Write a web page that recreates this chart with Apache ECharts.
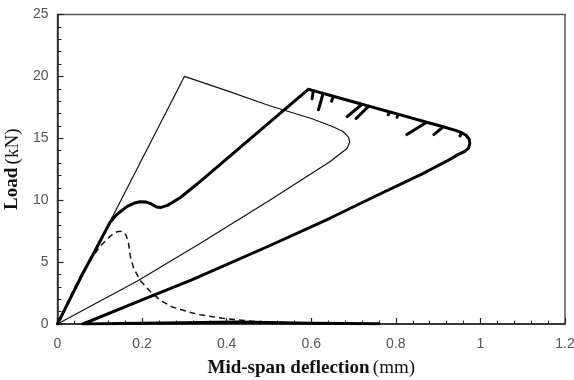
<!DOCTYPE html>
<html>
<head>
<meta charset="utf-8">
<script src="https://cdn.jsdelivr.net/npm/echarts@6/dist/echarts.min.js"></script>
<style>
html,body{margin:0;padding:0;background:#fff;}
#chart{width:574px;height:380px;}
</style>
</head>
<body>
<div id="chart"></div>
<script>
// Thin line: linear-elastic loading, peak, unloading back to origin
var thinCurve = [[0,0],[0.3,20],[0.4,18.85],[0.5,17.65],[0.6,16.6],[0.65,15.95],[0.675,15.55],[0.688,15.1],[0.691,14.7],[0.685,14.2],[0.67,13.8],[0.644,13.1],[0.5,9.95],[0.337,6.5],[0.19,3.5],[0,0]];
// Thick line: rising branch
var thickRise = [[0,0],[0.03,2.05],[0.06,4.1],[0.09,6.0],[0.11,7.3],[0.124,8.2],[0.14,8.85],[0.165,9.5],[0.18,9.75],[0.195,9.88],[0.21,9.85],[0.222,9.7],[0.234,9.45],[0.245,9.42],[0.26,9.58],[0.29,10.2],[0.337,11.5],[0.45,14.8],[0.593,18.96]];
// Thick line: softening branch with unload/reload spikes
var thickTop = [[0.605,18.85],[0.602,18.2],[0.605,18.85],[0.628,18.63],[0.617,17.3],[0.628,18.63],[0.652,18.4],[0.648,18.0],[0.652,18.4],[0.72,17.75],[0.685,16.75],[0.72,17.75],[0.736,17.6],[0.706,16.6],[0.736,17.6],[0.786,17.13],[0.782,16.9],[0.786,17.13],[0.805,16.95],[0.803,16.7],[0.805,16.95],[0.873,16.3],[0.826,15.3],[0.873,16.3],[0.912,15.93],[0.89,15.3],[0.912,15.93],[0.945,15.6],[0.956,15.45],[0.952,15.2],[0.956,15.45],[0.966,15.25],[0.973,14.95],[0.975,14.6]];
// Thick line: return branch
var thickReturn = [[0.972,14.2],[0.963,13.95],[0.948,13.7],[0.92,13.15],[0.88,12.44],[0.865,12.17],[0.75,10.3],[0.644,8.54],[0.5,6.3],[0.316,3.55],[0.2,1.95],[0.06,0]];
// Thick line: tail along axis
var thickTail = [[0.15,0.05],[0.3,0.1],[0.42,0.17],[0.5,0.12],[0.6,0.07],[0.76,0.03]];
// Dashed line
var dashedCurve = [[0,0],[0.034,2.5],[0.061,4.3],[0.1,6.25],[0.125,7.1],[0.14,7.45],[0.152,7.5],[0.162,7.2],[0.168,6.5],[0.172,5.5],[0.18,4.5],[0.195,3.55],[0.22,2.6],[0.242,1.95],[0.27,1.4],[0.312,0.95],[0.337,0.75],[0.39,0.46],[0.469,0.19],[0.55,0.08],[0.6,0.05]];

var xTicks = [0,0.2,0.4,0.6,0.8,1,1.2];
var yTicks = [0,5,10,15,20,25];

var thickCurve = thickRise.concat(thickTop, thickReturn, thickTail);

var chart = echarts.init(document.getElementById('chart'), null, {renderer:'canvas'});
var labelStyle = {color:'#555', fontFamily:'Liberation Sans, Arial, sans-serif', fontSize:14};
var nameRich = {
  b:{fontFamily:'Liberation Serif, Times New Roman, serif', fontWeight:'bold', fontSize:19, color:'#111'},
  r:{fontFamily:'Liberation Serif, Times New Roman, serif', fontSize:19, color:'#111'}
};
chart.setOption({
  animation:false,
  backgroundColor:'#fff',
  grid:{left:57.5, right:9, top:14.5, bottom:56, show:true, borderColor:'#555', borderWidth:1.5, outerBoundsMode:'none', containLabel:false},
  xAxis:{
    type:'value', min:0, max:1.2, interval:0.2,
    name:'{b|Mid-span deflection} {r|(mm)}', nameLocation:'middle', nameGap:35,
    nameTextStyle:{rich:nameRich},
    axisLine:{lineStyle:{color:'#222', width:1.5}},
    axisTick:{inside:true, length:6, lineStyle:{color:'#222', width:1.2}},
    minorTick:{show:true, splitNumber:5, length:3.5, lineStyle:{color:'#222', width:1}},
    splitLine:{show:false},
    axisLabel:Object.assign({margin:13, formatter:function(v){return String(+v.toFixed(1));}}, labelStyle)
  },
  yAxis:{
    type:'value', min:0, max:25, interval:5,
    name:'{b|Load} {r|(kN)}', nameLocation:'middle', nameGap:31,
    nameTextStyle:{rich:nameRich},
    axisLine:{lineStyle:{color:'#222', width:1.5}},
    axisTick:{inside:true, length:6, lineStyle:{color:'#222', width:1.2}},
    minorTick:{show:true, splitNumber:5, length:4, lineStyle:{color:'#222', width:1}},
    splitLine:{show:false},
    axisLabel:Object.assign({margin:9}, labelStyle)
  },
  series:[
    {type:'line', data:thinCurve, symbol:'none', smooth:false, lineStyle:{color:'#111', width:1.2}, z:3},
    {type:'line', data:dashedCurve, symbol:'none', smooth:false, lineStyle:{color:'#111', width:1.5, type:[6,4]}, z:3},
    {type:'line', data:thickCurve, symbol:'none', smooth:false, lineStyle:{color:'#000', width:3, join:'round', cap:'round'}, z:4}
  ]
});
</script>
</body>
</html>
